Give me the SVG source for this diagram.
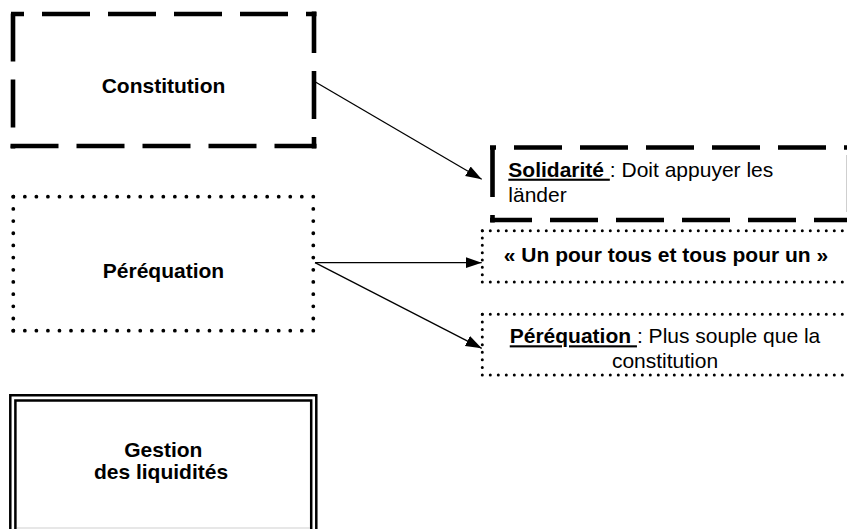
<svg xmlns="http://www.w3.org/2000/svg" width="847" height="529" viewBox="0 0 847 529">
<defs>
<style>
.dash{fill:none;stroke:#000;stroke-width:4.6;stroke-dasharray:48 18;stroke-linecap:butt}
.dotb{fill:none;stroke:#000;stroke-width:3.8;stroke-linecap:round}
.dots{fill:none;stroke:#000;stroke-width:3;stroke-linecap:round}
.dbl{fill:none;stroke:#000;stroke-width:2.5}
.conn{fill:none;stroke:#000;stroke-width:1.3;marker-end:url(#arr)}
.t{font-family:"Liberation Sans",Arial,sans-serif;font-size:21px;fill:#000}
.b{font-weight:bold}
.c{text-anchor:middle}
.u{text-decoration:underline}
.faint{stroke:#cfcfcf;stroke-width:1;fill:none}
</style>
<marker id="arr" markerUnits="userSpaceOnUse" markerWidth="17" markerHeight="12" refX="16" refY="6" orient="auto">
<path d="M0,0.5 L16,6 L0,11.5 z" fill="#000"/>
</marker>
</defs>
<rect width="847" height="529" fill="#fff"/>

<g id="constitution">
<line class="dash" x1="11" y1="14" x2="316.5" y2="14" stroke-dashoffset="35"/>
<line class="dash" x1="314" y1="11.5" x2="314" y2="148.5" stroke-dashoffset="6.5"/>
<line class="dash" x1="10.5" y1="146" x2="316.5" y2="146"/>
<line class="dash" x1="13" y1="11.5" x2="13" y2="148.5" stroke-dashoffset="-2"/>
<text class="t b c" x="163.5" y="93.3">Constitution</text>
</g>

<g id="perequation">
<line class="dotb" x1="13.3" y1="196.7" x2="313.3" y2="196.7" stroke-dasharray="0 11.54"/>
<line class="dotb" x1="313.3" y1="196.7" x2="313.3" y2="330.7" stroke-dasharray="0 12.18"/>
<line class="dotb" x1="13.3" y1="330.7" x2="313.3" y2="330.7" stroke-dasharray="0 11.54"/>
<line class="dotb" x1="13.3" y1="196.7" x2="13.3" y2="330.7" stroke-dasharray="0 12.18"/>
<text class="t b c" x="163.5" y="277.5">Péréquation</text>
</g>

<g id="gestion">
<path class="dbl" d="M10.3,530 V395.2 H316.3 V530"/>
<path class="dbl" d="M15.4,530 V400.4 H311.2 V530"/>
<line class="faint" x1="17" y1="528" x2="310" y2="528"/>
<text class="t b c" x="163.3" y="456.5">Gestion</text>
<text class="t b c" x="161" y="478.5">des liquidités</text>
</g>

<g id="solidarite">
<line class="dash" x1="490" y1="147.5" x2="860" y2="147.5" stroke-dashoffset="42"/>
<line class="dash" x1="492.5" y1="145" x2="492.5" y2="222.5" stroke-dashoffset="-4"/>
<line class="dash" x1="490" y1="220" x2="860" y2="220" stroke-dashoffset="6"/>
<line class="faint" x1="846.5" y1="155" x2="846.5" y2="212"/>
<text class="t" x="508.3" y="176.7"><tspan class="b u">Solidarité </tspan><tspan>: Doit appuyer les</tspan></text>
<text class="t" x="508.3" y="201.7">länder</text>
</g>

<g id="unpourtous">
<line class="dots" x1="482.3" y1="230.7" x2="860" y2="230.7" stroke-dasharray="0 8"/>
<line class="dots" x1="482.3" y1="282" x2="860" y2="282" stroke-dasharray="0 8"/>
<line class="dots" x1="482.3" y1="230.7" x2="482.3" y2="282" stroke-dasharray="0 7.33"/>
<text class="t b c" x="666" y="261.7">« Un pour tous et tous pour un »</text>
</g>

<g id="perequation2">
<line class="dots" x1="482.3" y1="314.3" x2="860" y2="314.3" stroke-dasharray="0 8"/>
<line class="dots" x1="482.3" y1="375" x2="860" y2="375" stroke-dasharray="0 8"/>
<line class="dots" x1="482.3" y1="314.3" x2="482.3" y2="375" stroke-dasharray="0 7.59"/>
<text class="t c" x="665" y="343.3"><tspan class="b u">Péréquation </tspan><tspan>: Plus souple que la</tspan></text>
<text class="t c" x="665" y="368.3">constitution</text>
</g>

<g id="connectors">
<line class="conn" x1="315" y1="81.7" x2="481.7" y2="179.3"/>
<line class="conn" x1="315" y1="262.7" x2="481.7" y2="262.7"/>
<line class="conn" x1="315" y1="262.7" x2="481.7" y2="348.3"/>
</g>
</svg>
